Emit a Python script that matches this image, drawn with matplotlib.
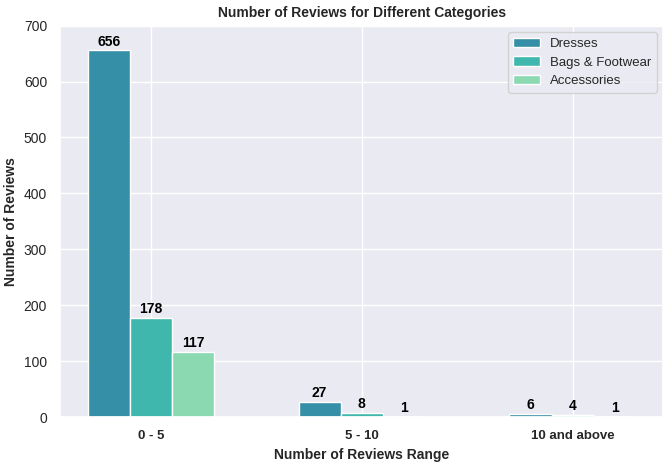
import matplotlib
matplotlib.use("Agg")
import matplotlib.pyplot as plt
import seaborn as sns
import numpy as np

categories = ["0 - 5", "5 - 10", "10 and above"]
series_names = ["Dresses", "Bags & Footwear", "Accessories"]
dresses = [656, 27, 6]
bags = [178, 8, 4]
accessories = [117, 1, 1]
colors = ["#348fa7", "#40b7ad", "#8ad9b1"]

sns.set_theme(style="darkgrid")
plt.rcParams['font.family'] = ['Liberation Sans', 'DejaVu Sans']

fig, ax = plt.subplots(figsize=(6.70, 4.66), dpi=100)
x = np.arange(len(categories))
w = 0.2
for i, (name, vals) in enumerate(zip(series_names, [dresses, bags, accessories])):
    bars = ax.bar(x + (i - 1) * w, vals, w, label=name, color=colors[i], edgecolor="white", linewidth=1)
    for b, v in zip(bars, vals):
        ax.text(b.get_x() + b.get_width() / 2, b.get_height() + 3, str(v),
                ha="center", va="bottom", fontsize=10, fontweight="bold", color="black")

ax.set_xticks(x)
ax.set_xticklabels(categories, fontweight="bold", fontsize=9.5)
ax.set_ylim(0, 700)
ax.tick_params(axis="y", labelsize=10)
ax.set_xlabel("Number of Reviews Range", fontweight="bold", fontsize=10)
ax.set_ylabel("Number of Reviews", fontweight="bold", fontsize=10)
ax.set_title("Number of Reviews for Different Categories", fontweight="bold", fontsize=10)
ax.legend(loc="upper right", fontsize=9.5, labelspacing=0.5)

fig.subplots_adjust(left=0.09, right=0.99, top=0.945, bottom=0.105)
fig.savefig("out.png", dpi=100)
